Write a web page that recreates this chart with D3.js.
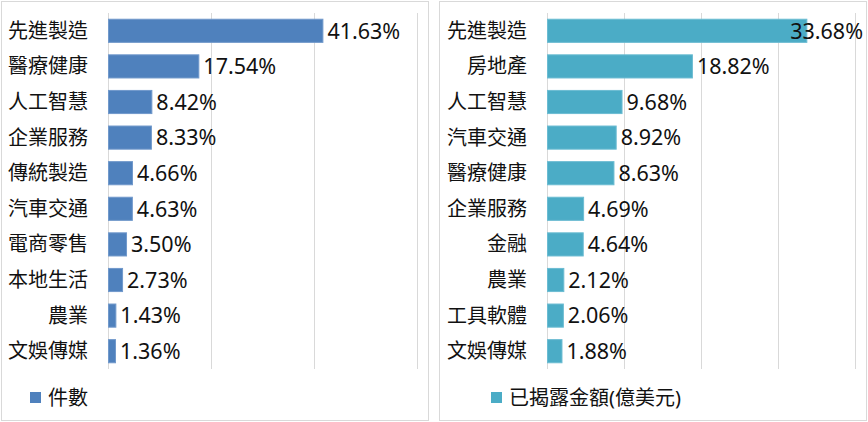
<!DOCTYPE html>
<html>
<head>
<meta charset="utf-8">
<script src="https://cdn.jsdelivr.net/npm/d3@7"></script>
<style>
  html, body { margin: 0; padding: 0; background: #fff; }
  svg { font-family: "Noto Sans", "Noto Sans CJK TC", sans-serif; display: block; }
</style>
</head>
<body>
<svg id="chart" width="868" height="422"></svg>
<script>
// data
const countCats = ['先進製造', '醫療健康', '人工智慧', '企業服務', '傳統製造', '汽車交通', '電商零售', '本地生活', '農業', '文娛傳媒'];
const countVals = [41.63, 17.54, 8.42, 8.33, 4.66, 4.63, 3.50, 2.73, 1.43, 1.36];
const countTicks = [0, 20, 40, 60];

const amountCats = ['先進製造', '房地產', '人工智慧', '汽車交通', '醫療健康', '企業服務', '金融', '農業', '工具軟體', '文娛傳媒'];
const amountVals = [33.68, 18.82, 9.68, 8.92, 8.63, 4.69, 4.64, 2.12, 2.06, 1.88];
const amountTicks = [0, 10, 20, 30, 40];

const svg = d3.select('#chart');

function panel(opts) {
    const g = svg.append('g');

    // frame
    g.append('rect')
        .attr('x', opts.frame[0] + 0.5).attr('y', 1.5)
        .attr('width', opts.frame[1] - opts.frame[0]).attr('height', 419)
        .attr('fill', '#fff').attr('stroke', '#d9d9d9');

    const x = d3.scaleLinear()
        .domain([0, d3.max(opts.ticks)])
        .range([opts.x0, opts.x1]);

    const y = d3.scaleBand()
        .domain(opts.cats)
        .range([13, 369])
        .paddingInner(0.35)
        .paddingOuter(0.175);

    // gridlines
    g.selectAll('line.grid')
        .data(opts.ticks)
        .join('line')
        .attr('class', 'grid')
        .attr('x1', d => Math.round(x(d)) + 0.5)
        .attr('x2', d => Math.round(x(d)) + 0.5)
        .attr('y1', 13).attr('y2', 369)
        .attr('stroke', '#d9d9d9');

    g.selectAll('rect.bar')
        .data(opts.vals)
        .join('rect')
        .attr('class', 'bar')
        .attr('x', x(0) + 0.5)
        .attr('y', (d, i) => y(opts.cats[i]))
        .attr('width', d => x(d) - x(0))
        .attr('height', y.bandwidth())
        .attr('fill', opts.color)
        .attr('stroke', opts.edge)
        .attr('stroke-width', 1);

    // category labels
    g.selectAll('text.cat')
        .data(opts.cats)
        .join('text')
        .attr('class', 'cat')
        .attr('x', opts.labelX)
        .attr('y', d => y(d) + y.bandwidth() / 2)
        .attr('dy', '0.35em')
        .attr('text-anchor', 'end')
        .attr('font-size', 20)
        .attr('fill', '#111')
        .text(d => d);

    // value labels, pushed back inside the frame when they run out of room
    g.selectAll('text.val')
        .data(opts.vals)
        .join('text')
        .attr('class', 'val')
        .attr('y', (d, i) => y(opts.cats[i]) + y.bandwidth() / 2)
        .attr('dy', '0.36em')
        .attr('font-size', 21.5)
        .attr('fill', '#111')
        .text(d => d.toFixed(2) + '%')
        .attr('x', function(d) {
            const w = this.getComputedTextLength();
            return Math.min(x(d) + 5, opts.frame[1] - 3 - w);
        });

    // legend
    g.append('rect')
        .attr('x', opts.legendX).attr('y', 392)
        .attr('width', 11).attr('height', 11)
        .attr('fill', opts.color);
    g.append('text')
        .attr('x', opts.legendX + 18).attr('y', 398)
        .attr('dy', '0.35em')
        .attr('font-size', 20)
        .attr('fill', '#111')
        .text(opts.legend);
}

panel({
    cats: countCats, vals: countVals, ticks: countTicks,
    frame: [1, 428], x0: 108, x1: 417, labelX: 88,
    color: '#4f81bd', edge: '#7199cb',
    legendX: 30, legend: '件數'
});

panel({
    cats: amountCats, vals: amountVals, ticks: amountTicks,
    frame: [439, 866], x0: 547, x1: 855, labelX: 527,
    color: '#4bacc6', edge: '#6cbcd2',
    legendX: 491, legend: '已揭露金額(億美元)'
});
</script>
</body>
</html>
